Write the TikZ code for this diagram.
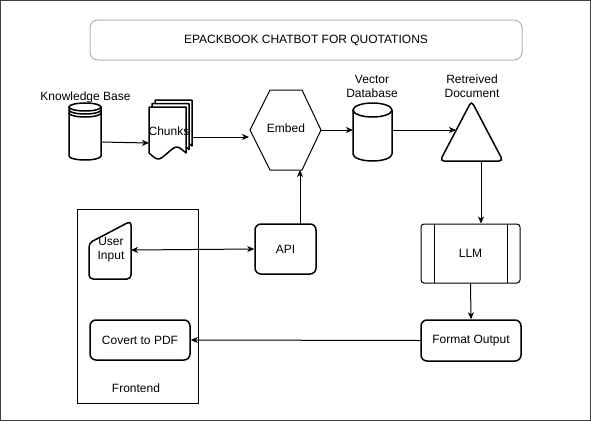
\documentclass[tikz,border=0pt]{standalone}
\usepackage{fontspec}
\setmainfont{Liberation Sans}
\usetikzlibrary{arrows.meta}
\begin{document}
\begin{tikzpicture}[x=1pt,y=-1pt,
  font=\fontsize{12}{14}\selectfont,
  arr/.style={line width=1pt,-{Stealth[length=7pt,width=6pt,inset=2pt]}},
  dblarr/.style={line width=1pt,{Stealth[length=7pt,width=6pt,inset=2pt]}-{Stealth[length=7pt,width=6pt,inset=2pt]}},
  rbox/.style={draw,line width=1.5pt,rounded corners=6pt,inner sep=0pt,align=center},
  thinbox/.style={draw,line width=1pt,inner sep=0pt},
  anchorbox/.style={inner sep=0pt,outer sep=0pt},
  lbl/.style={inner sep=0pt,align=center},
  docpic/.pic={\draw[fill=white,line width=1.5pt,line join=round]
     (0,0) -- (37,0) -- (37,46) .. controls (27.75,38) .. (18.5,46)
     .. controls (9.25,54) .. (0,46) -- cycle;}
]
\useasboundingbox (0,0) rectangle (591,421);
\draw[line width=1pt,draw=black!75] (0.5,0.5) rectangle (590.5,420.5);

% title
\node[draw=black!30,line width=1pt,rounded corners=8pt,minimum width=432pt,minimum height=40pt,inner sep=0pt]
  (title) at (306,40) {EPACKBOOK CHATBOT FOR QUOTATIONS};

% knowledge base (data store)
\node[anchorbox,minimum width=32pt,minimum height=57pt] (kb) at (85,131.5) {};
\draw[line width=1.5pt,fill=white] (69,107) -- (69,156) arc[start angle=180,end angle=0,x radius=16,y radius=4] -- (101,107);
\draw[line width=1.5pt] (85,107) ellipse[x radius=16,y radius=4];
\draw[line width=1.5pt] (69,110) arc[start angle=180,end angle=0,x radius=16,y radius=4];
\draw[line width=1.5pt] (69,113) arc[start angle=180,end angle=0,x radius=16,y radius=4];
\node[lbl] (kblbl) at (85.5,97) {Knowledge Base};

% chunks (multi-document)
\pic at (155,100) {docpic};
\pic at (152,103.5) {docpic};
\pic at (149,107) {docpic};
\node[lbl] (chunks) at (169,131) {Chunks};

% embed hexagon
\draw[line width=1pt] (250,130) -- (270,90) -- (302,90) -- (321,130) -- (302,170) -- (270,170) -- cycle;
\node[anchorbox,minimum width=71pt,minimum height=80pt] (embed) at (285.5,130) {};
\node[lbl] (embedlbl) at (286,128) {Embed};

% vector database
\node[anchorbox,minimum width=39pt,minimum height=58pt] (vdb) at (372.5,132) {};
\draw[line width=1.5pt,fill=white] (353,110) -- (353,154) arc[start angle=180,end angle=0,x radius=19.5,y radius=7] -- (392,110);
\draw[line width=1.5pt] (372.5,110) ellipse[x radius=19.5,y radius=7];
\node[lbl] (vdblbl) at (372,86) {Vector\\Database};

% retrieved document triangle
\draw[line width=1.5pt,rounded corners=4pt] (471.5,101) -- (503,161) -- (440,161) -- cycle;
\node[anchorbox,minimum width=63pt,minimum height=60pt] (tri) at (471.5,131) {};
\node[lbl] (trilbl) at (472,86) {Retreived\\Document};

% LLM (process)
\node[draw,line width=1pt,rounded corners=3pt,minimum width=99pt,minimum height=59pt,inner sep=0pt] (llm) at (470.5,253.5) {LLM};
\draw[line width=1pt] (434,224) -- (434,283) (507,224) -- (507,283);

% format output
\node[rbox,minimum width=100pt,minimum height=41pt] (fmt) at (471,340.5) {Format Output};

% frontend container
\node[thinbox,minimum width=121pt,minimum height=194pt] (front) at (137.5,306) {};
\node[lbl] (frontlbl) at (136,388) {Frontend};

% user input (manual input)
\draw[line width=1.5pt,rounded corners=4pt] (89,243) -- (131,221) -- (131,279) -- (89,279) -- cycle;
\node[anchorbox,minimum width=42pt,minimum height=58pt] (ui) at (110,250) {};
\node[lbl] (uilbl) at (111,250) {User\\Input};

% covert to pdf
\node[rbox,minimum width=100pt,minimum height=40pt] (pdf) at (140,340) {Covert to PDF};

% API
\node[rbox,minimum width=61pt,minimum height=50pt] (api) at (285.5,249) {API};

% connector endpoints
\coordinate (kbout) at (101,142);
\coordinate (chin) at (149,143);
\coordinate (chout) at (192,137);
\coordinate (embin) at (249,137);
\coordinate (triin) at (456,130);
\coordinate (triout) at (481,161);
\coordinate (apitop) at (300,224);
\coordinate (embbot) at (300,170);

% connectors
\draw[arr] (kbout) -- (chin);
\draw[arr] (chout) -- (embin);
\draw[arr] (embed.east) -- (vdb.west |- embed.east);
\draw[arr] (vdb.east |- triin) -- (triin);
\draw[arr] (triout) -- (triout |- llm.north);
\draw[arr] (llm.south) -- (fmt.north);
\draw[arr] (fmt.west) -- (pdf.east);
\draw[dblarr] (ui.east) -- (api.west);
\draw[arr] (apitop) -- (embbot);
\end{tikzpicture}
\end{document}
